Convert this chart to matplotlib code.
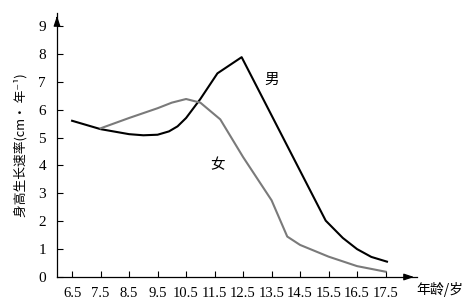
import matplotlib
matplotlib.use("Agg")
import matplotlib.pyplot as plt

male_age = [6.5, 7.5, 8.5, 9.0, 9.5, 9.9, 10.2, 10.5, 11.0, 11.6, 12.45, 15.4, 16.0, 16.5, 17.0, 17.55]
male_rate = [5.6, 5.3, 5.12, 5.08, 5.1, 5.22, 5.4, 5.7, 6.38, 7.3, 7.88, 2.02, 1.4, 1.0, 0.72, 0.55]

female_age = [7.5, 8.5, 9.5, 10.0, 10.5, 11.0, 11.7, 12.5, 13.5, 14.05, 14.5, 15.5, 16.5, 17.5]
female_rate = [5.33, 5.7, 6.05, 6.25, 6.38, 6.25, 5.65, 4.3, 2.75, 1.45, 1.15, 0.73, 0.39, 0.19]

x_ticks = [6.5, 7.5, 8.5, 9.5, 10.5, 11.5, 12.5, 13.5, 14.5, 15.5, 16.5, 17.5]
y_ticks = list(range(10))

serif = ["Liberation Serif", "DejaVu Serif"]
cjk = ["Noto Sans CJK SC", "DejaVu Sans"]

fig = plt.figure(figsize=(4.68, 3.03), dpi=100)
ax = fig.add_axes([0.1218, 0.0858, 0.769, 0.871])

ax.plot(male_age, male_rate, color="black", lw=1.5)
ax.plot(female_age, female_rate, color="#7a7a7a", lw=1.5)

ax.set_xlim(5.97, 18.6)
ax.set_ylim(0, 9.46)
ax.set_xticks(x_ticks)
ax.set_xticklabels([str(t) for t in x_ticks], family=serif, fontsize=10.5)
ax.set_yticks(y_ticks)
ax.set_yticklabels([str(t) for t in y_ticks], family=serif, fontsize=11)
ax.tick_params(direction="in", length=4, width=0.8)
ax.tick_params(axis="x", pad=7)
ax.tick_params(axis="y", pad=8)

for s in ["top", "right"]:
    ax.spines[s].set_visible(False)
for s in ["left", "bottom"]:
    ax.spines[s].set_linewidth(0.9)

# axis arrows
ax.annotate("", xy=(1.0, 0), xytext=(0.97, 0), xycoords="axes fraction",
            arrowprops=dict(arrowstyle="-|>,head_length=0.6,head_width=0.2", color="black", lw=0.9))
ax.annotate("", xy=(0, 1.0), xytext=(0, 0.97), xycoords="axes fraction",
            arrowprops=dict(arrowstyle="-|>,head_length=0.6,head_width=0.2", color="black", lw=0.9))

ax.text(13.52, 7.06, "男", family=cjk, fontsize=10.5, ha="center", va="center")
ax.text(11.62, 4.0, "女", family=cjk, fontsize=10.5, ha="center", va="center")

ax.set_ylabel("身高生长速率(cm· 年⁻¹)", family=cjk, fontsize=9.2, labelpad=8)
fig.text(0.94, 0.045, "年龄/岁", family=cjk, fontsize=10, ha="center", va="center")

fig.savefig("out.png", dpi=100)
